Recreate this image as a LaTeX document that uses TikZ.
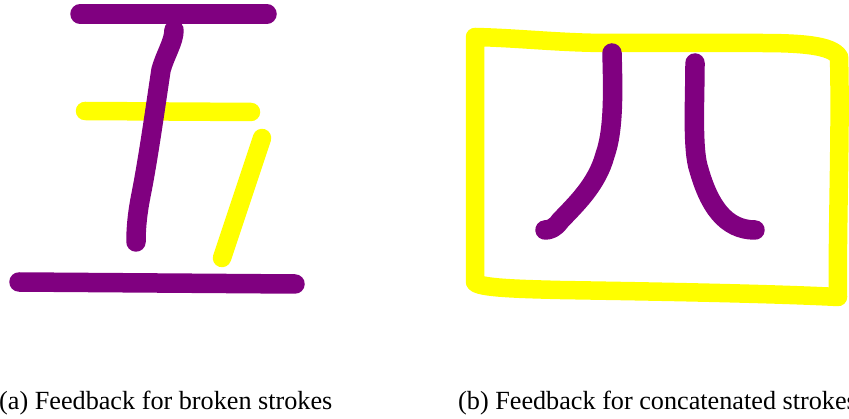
\documentclass[tikz,border=0pt]{standalone}
\usepackage{fontspec}
\setmainfont{Liberation Serif}
\definecolor{inkpurple}{HTML}{800080}
\definecolor{inkyellow}{HTML}{FFFF00}
\begin{document}
\begin{tikzpicture}[x=1pt,y=-1pt,
  pstroke/.style={draw=inkpurple,line width=19.5pt,line cap=round,line join=round},
  ystroke/.style={draw=inkyellow,line width=18.5pt,line cap=round,line join=round},
  caption/.style={anchor=base west,inner sep=0pt,font=\fontsize{26.2}{30}\selectfont}]
\useasboundingbox (0,0) rectangle (849,419);
\clip (0,0) rectangle (849,419);
% (a) broken strokes
\draw[ystroke] (85,111) -- (251,112);
\draw[ystroke] (262,138) -- (222,258);
\draw[pstroke] (80,14) -- (267,14);
\draw[pstroke] (174,30) .. controls (174,42) and (165,55) .. (161,70)
  .. controls (155,110) and (148,160) .. (141,195)
  .. controls (137,215) and (136,230) .. (136,242);
\draw[pstroke] (19,282) -- (295,284);
% (b) concatenated strokes
\draw[ystroke] (475,37) .. controls (520,38) and (560,43) .. (610,43)
  -- (760,43) .. controls (800,43) and (832,45) .. (839,57)
  .. controls (841,130) and (837,230) .. (838,297)
  .. controls (760,293) and (620,291) .. (560,290)
  .. controls (520,289) and (478,288) .. (475,282)
  -- cycle;
\draw[pstroke] (612,53) .. controls (613,90) and (614,130) .. (605,155)
  .. controls (597,185) and (575,205) .. (560,221)
  .. controls (555,228) and (550,230) .. (545,230);
\draw[pstroke] (695,63) .. controls (695,100) and (692,150) .. (699,170)
  .. controls (709,205) and (725,230) .. (755,230);
\node[caption] (capa) at (-1,410) {(a) Feedback for broken strokes};
\node[caption] (capb) at (458,410) {(b) Feedback for concatenated strokes};
\end{tikzpicture}
\end{document}
